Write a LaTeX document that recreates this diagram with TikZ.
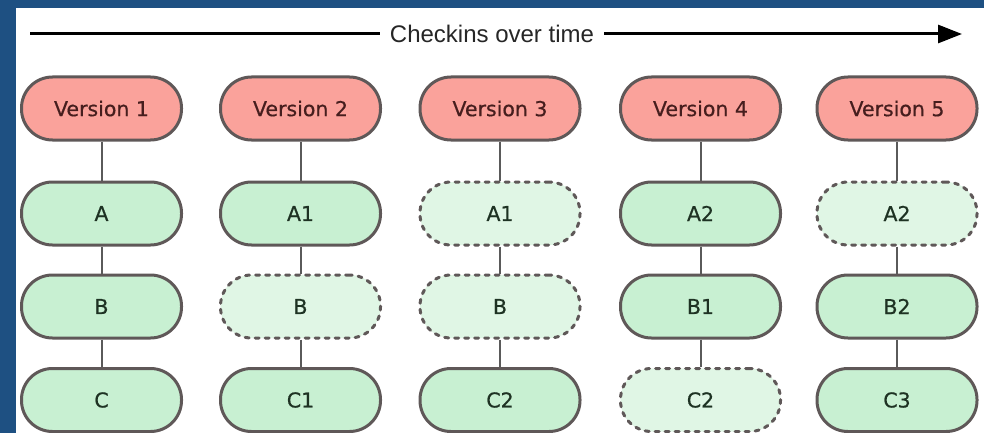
\documentclass[tikz,border=0pt]{standalone}
\usepackage{fontspec}
\setmainfont{DejaVu Sans}
\newfontfamily\boxfont[FakeBold=0.6]{DejaVu Sans}
\newfontfamily\arialfont{Liberation Sans}
\usetikzlibrary{arrows.meta}
\definecolor{bgblue}{RGB}{30,80,130}
\definecolor{verfill}{RGB}{250,162,155}
\definecolor{verline}{RGB}{95,88,88}
\definecolor{verText}{RGB}{70,30,30}
\definecolor{grfill}{RGB}{200,240,210}
\definecolor{grlight}{RGB}{224,246,229}
\definecolor{grText}{RGB}{30,50,35}
\definecolor{conn}{RGB}{90,90,90}
\tikzset{
  pill/.style={rectangle, rounded corners=31pt, minimum width=160pt, minimum height=63pt,
    line width=3pt, draw=verline, font=\boxfont\fontsize{20.5}{24}\selectfont, inner sep=0pt},
  verbox/.style={pill, fill=verfill, text=verText},
  filebox/.style={pill, fill=grfill, text=grText},
  refbox/.style={pill, fill=grlight, text=grText, dash pattern=on 4pt off 6pt, line cap=round},
  link/.style={draw=conn, line width=2pt}
}
\begin{document}
\begin{tikzpicture}[x=1pt,y=-1pt]
\useasboundingbox (0,0) rectangle (984,433);
\fill[bgblue] (0,0) rectangle (984,433);
\fill[white] (16,8) rectangle (984,433);
\begin{scope}
\clip (16,8) rectangle (984,433);
% time arrow
\coordinate (tstart) at (30,34);
\coordinate (tend) at (962,34);
\draw[line width=3pt, -{Triangle[length=24pt,width=18pt]}] (tstart) -- (tend);
\node[fill=white, inner xsep=10pt, font=\arialfont\fontsize{24}{28}\selectfont, text=black!85] (title) at (492,34) {Checkins over time};
% columns
\node[verbox] (v1) at (101.5,108.5) {Version 1};
\node[verbox] (v2) at (300.5,108.5) {Version 2};
\node[verbox] (v3) at (500,108.5) {Version 3};
\node[verbox] (v4) at (700.5,108.5) {Version 4};
\node[verbox] (v5) at (897,108.5) {Version 5};
% row A
\node[filebox] (a1) at (101.5,213.5) {A};
\node[filebox] (a2) at (300.5,213.5) {A1};
\node[refbox]  (a3) at (500,213.5) {A1};
\node[filebox] (a4) at (700.5,213.5) {A2};
\node[refbox]  (a5) at (897,213.5) {A2};
% row B
\node[filebox] (b1) at (101.5,306.5) {B};
\node[refbox]  (b2) at (300.5,306.5) {B};
\node[refbox]  (b3) at (500,306.5) {B};
\node[filebox] (b4) at (700.5,306.5) {B1};
\node[filebox] (b5) at (897,306.5) {B2};
% row C
\node[filebox] (c1) at (101.5,400) {C};
\node[filebox] (c2) at (300.5,400) {C1};
\node[filebox] (c3) at (500,400) {C2};
\node[refbox]  (c4) at (700.5,400) {C2};
\node[filebox] (c5) at (897,400) {C3};
\foreach \i in {1,...,5}{
  \draw[link] (v\i.south) -- (a\i.north);
  \draw[link] (a\i.south) -- (b\i.north);
  \draw[link] (b\i.south) -- (c\i.north);
}
\end{scope}
\end{tikzpicture}
\end{document}
